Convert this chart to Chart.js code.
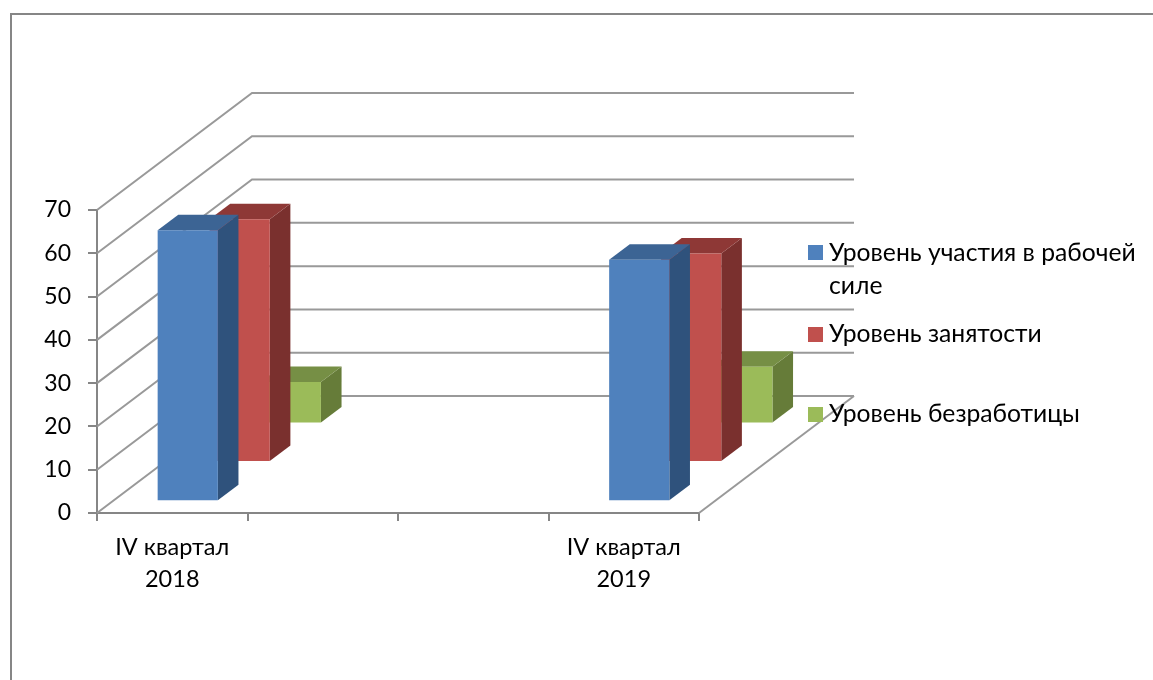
<!DOCTYPE html>
<html lang="ru">
<head>
<meta charset="utf-8">
<style>
  html, body { margin: 0; background: #fff; overflow: hidden; }
  #frame { position: absolute; left: 10px; top: 13px; width: 2000px; height: 2000px; border: 2px solid #868686; }
  canvas { position: absolute; left: 0; top: 0; }
</style>
</head>
<body>
<div id="frame"></div>
<canvas id="myChart" width="1153" height="680"></canvas>
<script src="https://cdn.jsdelivr.net/npm/chart.js@4"></script>
<script>
const categories = [['IV квартал', '2018'], '', '', ['IV квартал', '2019']];
const participation = [62.6, null, null, 55.8];
const employment = [56.1, null, null, 48.2];
const unemployment = [9.6, null, null, 13.1];
const seriesNames = ['Уровень участия в рабочей силе', 'Уровень занятости', 'Уровень безработицы'];
const yTicks = [0, 10, 20, 30, 40, 50, 60, 70];

const fontFamily = 'Lato, "Open Sans", sans-serif';
const axisColor = '#868686';
const frontColors = ['#4F81BD', '#C0504D', '#9BBB59'];
const sideColors = ['#2F527C', '#7A302E', '#667C39'];
const topColors = ['#3C6494', '#8E3836', '#768F45'];

// 3D: how far the floor goes back, where each series stands, and how deep a bar is
const wallDx = 155, wallDy = 117;
const seriesDepth = [0.1, 0.435, 0.765];
const barDepth = 0.133;

function poly(ctx, color, pts) {
  ctx.fillStyle = color;
  ctx.beginPath();
  pts.forEach(function (p, i) {
    if (i === 0) ctx.moveTo(p[0], p[1]); else ctx.lineTo(p[0], p[1]);
  });
  ctx.closePath();
  ctx.fill();
}

const wallPlugin = {
  id: 'wall',
  beforeDatasetsDraw(chart) {
    const ctx = chart.ctx, y = chart.scales.y, area = chart.chartArea;
    ctx.save();
    ctx.strokeStyle = '#999999';
    ctx.lineWidth = 2;
    yTicks.forEach(function (v) {
      const py = y.getPixelForValue(v);
      ctx.beginPath();
      ctx.moveTo(area.left, py);
      ctx.lineTo(area.left + wallDx, py - wallDy);
      ctx.lineTo(area.right + wallDx, py - wallDy);
      ctx.stroke();
    });
    // right edge of the floor
    ctx.beginPath();
    ctx.moveTo(area.right, area.bottom);
    ctx.lineTo(area.right + wallDx, area.bottom - wallDy);
    ctx.stroke();
    ctx.restore();
  },
  // each bar gets its side and top faces, then the library draws the front shifted back
  beforeDatasetDraw(chart, args) {
    const ctx = chart.ctx, i = args.index;
    const ox = wallDx * seriesDepth[i], oy = -wallDy * seriesDepth[i];
    const dx = wallDx * barDepth, dy = wallDy * barDepth;
    ctx.save();
    ctx.translate(ox, oy);
    args.meta.data.forEach(function (bar, j) {
      if (chart.data.datasets[i].data[j] == null) return;
      const x0 = bar.x - bar.width / 2, x1 = bar.x + bar.width / 2;
      poly(ctx, sideColors[i], [[x1, bar.y], [x1 + dx, bar.y - dy], [x1 + dx, bar.base - dy], [x1, bar.base]]);
      poly(ctx, topColors[i], [[x0, bar.y], [x1, bar.y], [x1 + dx, bar.y - dy], [x0 + dx, bar.y - dy]]);
    });
  },
  afterDatasetDraw(chart) {
    chart.ctx.restore();
  },
  afterDraw(chart) {
    const ctx = chart.ctx;
    const boxTop = [245, 327, 407];
    const textTop = [261, 342, 422];
    ctx.save();
    ctx.font = '24.7px ' + fontFamily;
    ctx.textBaseline = 'alphabetic';
    seriesNames.forEach(function (name, i) {
      ctx.fillStyle = frontColors[i];
      ctx.fillRect(808, boxTop[i], 15, 15);
      ctx.fillStyle = '#000';
      // wrap long names like the original legend
      let line = '', py = textTop[i];
      name.split(' ').forEach(function (word) {
        const next = line ? line + ' ' + word : word;
        if (ctx.measureText(next).width > 315 && line) {
          ctx.fillText(line, 829, py);
          py += 33;
          line = word;
        } else {
          line = next;
        }
      });
      ctx.fillText(line, 829, py);
    });
    ctx.restore();
  }
};

const myChart = new Chart(document.getElementById('myChart').getContext('2d'), {
  type: 'bar',
  data: {
    labels: categories,
    datasets: [
      { label: seriesNames[0], data: participation, backgroundColor: frontColors[0] },
      { label: seriesNames[1], data: employment, backgroundColor: frontColors[1] },
      { label: seriesNames[2], data: unemployment, backgroundColor: frontColors[2] }
    ]
  },
  options: {
    responsive: false,
    animation: false,
    devicePixelRatio: 1,
    grouped: false,
    clip: false,
    barPercentage: 0.4,
    categoryPercentage: 1,
    layout: { padding: { left: 0, right: 454, top: 210, bottom: 59 } },
    plugins: { legend: { display: false }, tooltip: { enabled: false } },
    scales: {
      x: {
        grid: { drawOnChartArea: false, color: axisColor, lineWidth: 2, tickLength: 8 },
        border: { color: axisColor, width: 2 },
        ticks: {
          autoSkip: false,
          maxRotation: 0,
          padding: 10,
          color: '#000',
          font: { family: fontFamily, size: 23.5, lineHeight: 1.37 }
        },
        afterFit(scale) { scale.height = 108; }
      },
      y: {
        min: 0,
        max: 70,
        grid: { drawOnChartArea: false, color: axisColor, lineWidth: 2, tickLength: 9 },
        border: { color: axisColor, width: 2 },
        ticks: {
          stepSize: 10,
          padding: 17,
          color: '#000',
          font: { family: fontFamily, size: 23 }
        },
        afterFit(scale) { scale.width = 97; }
      }
    }
  },
  plugins: [wallPlugin]
});
</script>
</body>
</html>
